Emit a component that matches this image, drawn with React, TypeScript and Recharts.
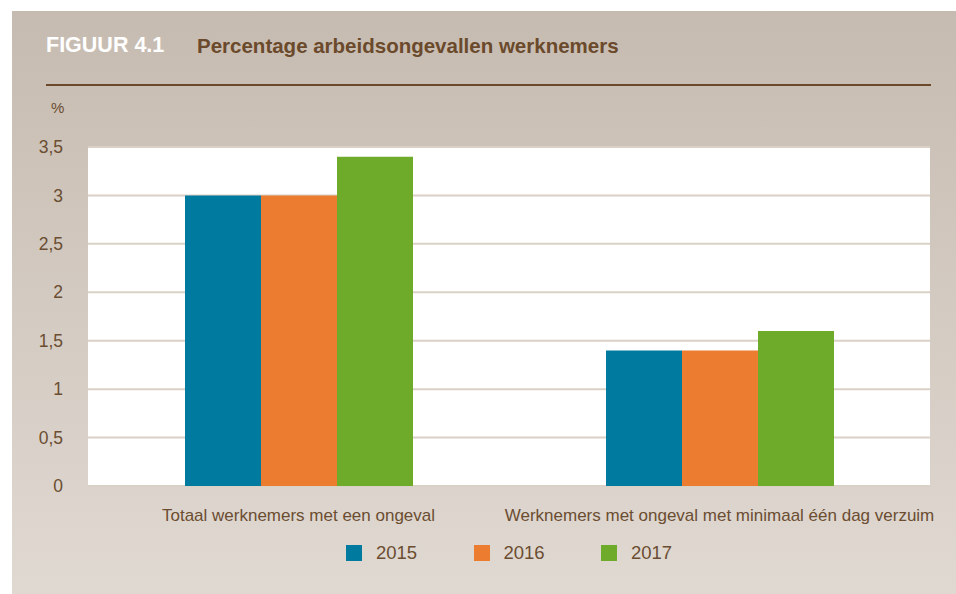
import { BarChart, Bar, XAxis, YAxis, CartesianGrid } from "recharts"

const categories = [
  "Totaal werknemers met een ongeval",
  "Werknemers met ongeval met minimaal één dag verzuim",
]
const years = ["2015", "2016", "2017"]
const values2015 = [3.0, 1.4]
const values2016 = [3.0, 1.4]
const values2017 = [3.4, 1.6]
const yTicks = [0, 0.5, 1, 1.5, 2, 2.5, 3, 3.5]

const colors = ["#007b9f", "#ec7c30", "#6fab2b"]
const brown = "#6b4d31"
const font = "'Liberation Sans', Arial, sans-serif"

const data = categories.map((name, i) => ({
  name,
  "2015": values2015[i],
  "2016": values2016[i],
  "2017": values2017[i],
}))

export default function App() {
  return (
    <div style={{ position: "absolute", left: 0, top: 0, width: 956, height: 594, background: "#fff", fontFamily: font }}>
      <div
        style={{
          position: "absolute",
          left: 12,
          top: 11,
          width: 944,
          height: 583,
          background: "linear-gradient(#c6bbb0, #e0d9d2)",
        }}
      />
      <div style={{ position: "absolute", left: 46, top: 33, fontSize: 21.5, fontWeight: 700, color: "#fff" }}>
        FIGUUR 4.1
      </div>
      <div style={{ position: "absolute", left: 197, top: 34, fontSize: 20.5, fontWeight: 700, color: "#6b4a2c" }}>
        Percentage arbeidsongevallen werknemers
      </div>
      <div style={{ position: "absolute", left: 46, top: 84, width: 885, height: 2, background: "#6b4a2c" }} />
      <div style={{ position: "absolute", left: 51, top: 99, fontSize: 15, color: brown }}>%</div>

      <div style={{ position: "absolute", left: 0, top: 0 }}>
        <BarChart
          width={956}
          height={594}
          data={data}
          margin={{ top: 147, right: 26, left: 48, bottom: 78 }}
          barCategoryGap={97}
          barGap={0}
        >
          <CartesianGrid vertical={false} fill="#fff" stroke="#d9d0c6" strokeWidth={2} />
          <XAxis
            dataKey="name"
            axisLine={false}
            tickLine={false}
            tickSize={0}
            tickMargin={23}
            height={30}
            interval={0}
            tick={{ fill: brown, fontSize: 17, fontFamily: font }}
          />
          <YAxis
            width={40}
            domain={[0, 3.5]}
            ticks={yTicks}
            axisLine={false}
            tickLine={false}
            tickSize={0}
            tickMargin={25}
            tickFormatter={(v) => String(v).replace(".", ",")}
            tick={{ fill: brown, fontSize: 17.5, fontFamily: font }}
          />
          {years.map((y, i) => (
            <Bar key={y} dataKey={y} fill={colors[i]} isAnimationActive={false} />
          ))}
        </BarChart>
      </div>

      {years.map((y, i) => (
        <div
          key={y}
          style={{ position: "absolute", left: 346 + i * 127.5, top: 545, display: "flex", alignItems: "center" }}
        >
          <div style={{ width: 16, height: 16, background: colors[i] }} />
          <span style={{ marginLeft: 14, fontSize: 18.5, color: brown, lineHeight: "16px" }}>{y}</span>
        </div>
      ))}
    </div>
  )
}
